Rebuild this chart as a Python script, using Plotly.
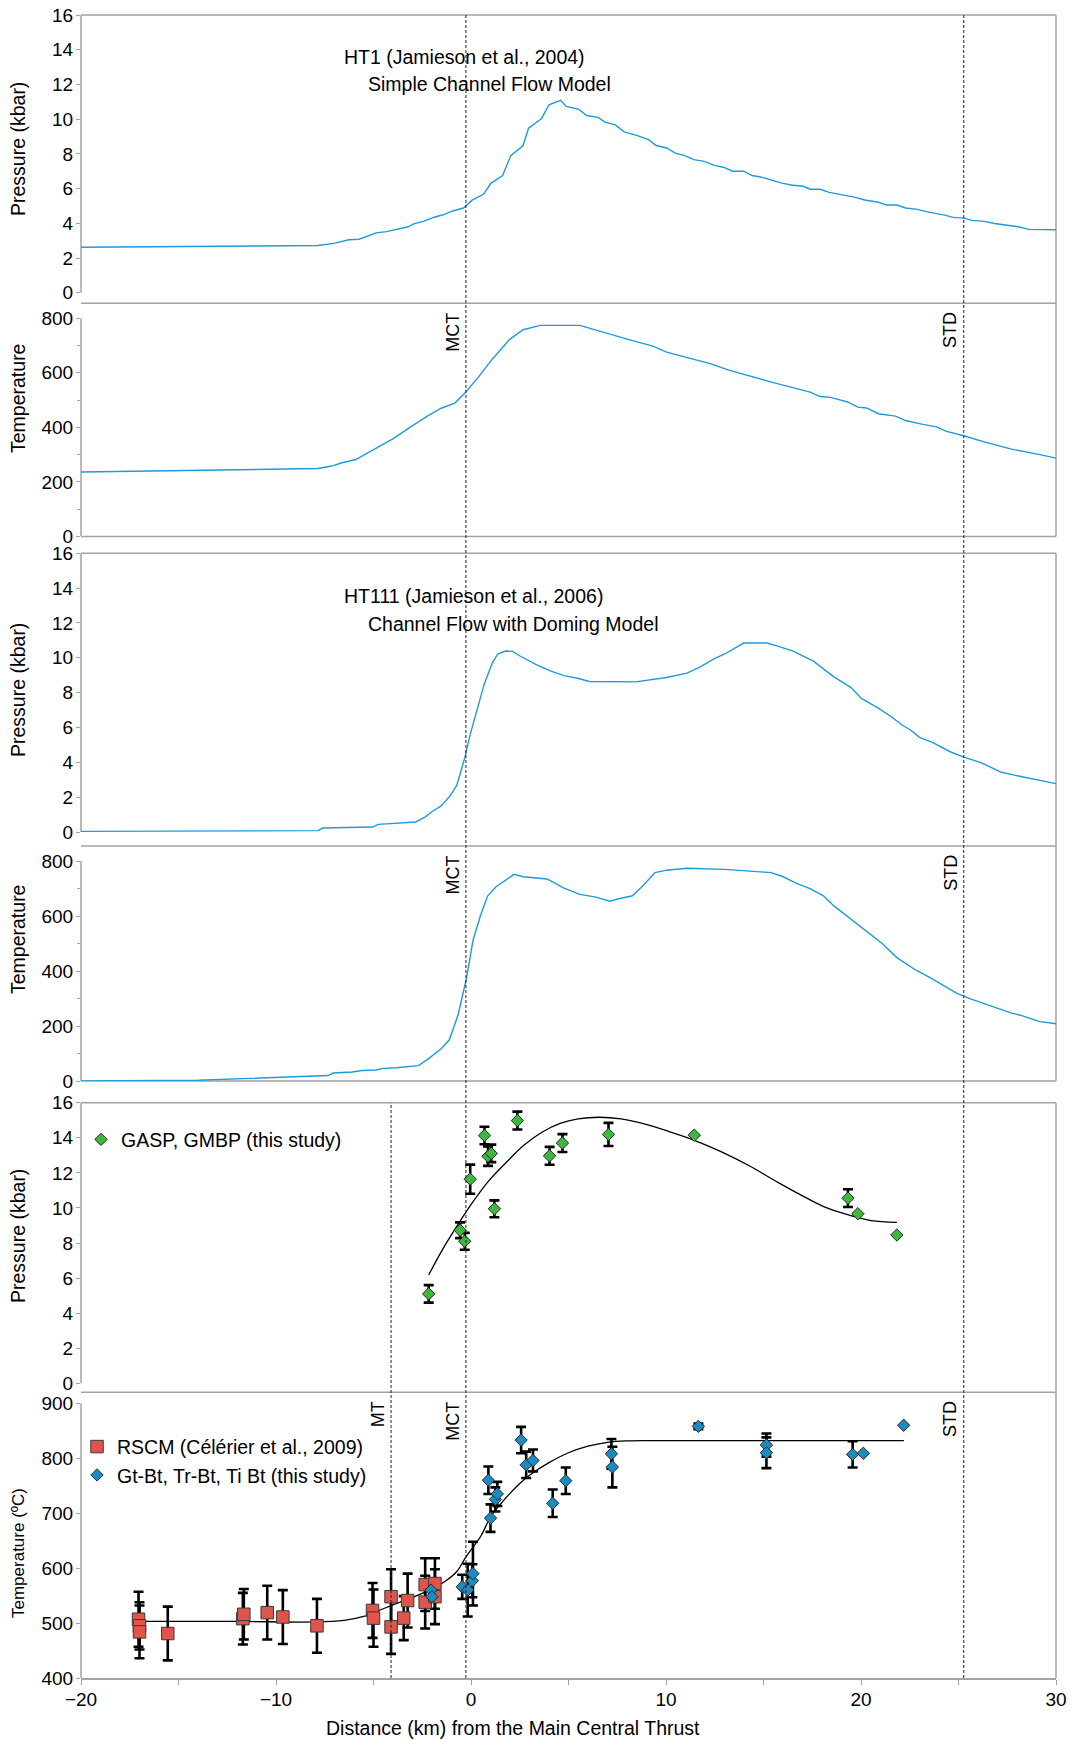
import plotly.graph_objects as go

# ---------------- data ----------------
# HT1 (Jamieson et al., 2004) model
ht1_p_x = [-20, -7.84, -6.97, -6.26, -5.74, -5.21, -4.86, -4.34, -3.81, -3.22, -2.94, -2.41, -1.89, -1.43,
           -0.94, -0.38, 0.04, 0.64, 1.02, 1.62, 2.04, 2.67, 2.95, 3.62, 4.0, 4.6, 4.88, 5.54, 5.93, 6.52,
           6.87, 7.40, 7.86, 8.45, 9.08, 9.50, 10.03, 10.48, 10.97, 11.43, 11.96, 12.48, 12.94, 13.43, 13.99,
           14.41, 14.86, 15.39, 15.99, 16.51, 17.04, 17.39, 17.91, 18.37, 18.96, 19.66, 20.19, 20.89, 21.31,
           21.84, 22.29, 22.89, 23.34, 23.87, 24.29, 24.74, 25.27, 25.69, 26.32, 26.85, 27.44, 28.07, 28.60,
           29.12, 30.0]
ht1_p = [2.62, 2.72, 2.86, 3.05, 3.08, 3.28, 3.45, 3.52, 3.65, 3.80, 3.97, 4.12, 4.35, 4.49,
         4.71, 4.88, 5.32, 5.67, 6.30, 6.75, 7.90, 8.48, 9.48, 10.04, 10.83, 11.08, 10.73, 10.56, 10.21, 10.10,
         9.83, 9.67, 9.27, 9.08, 8.83, 8.48, 8.34, 8.04, 7.90, 7.67, 7.57, 7.34, 7.23, 7.00, 7.00,
         6.75, 6.67, 6.48, 6.30, 6.19, 6.13, 5.96, 5.96, 5.78, 5.67, 5.51, 5.34, 5.21, 5.05,
         5.05, 4.88, 4.80, 4.67, 4.57, 4.47, 4.34, 4.30, 4.17, 4.11, 3.99, 3.90, 3.80, 3.65,
         3.63, 3.63]
ht1_t_x = [-20, -7.84, -7.14, -6.61, -5.91, -5.04, -3.99, -3.11, -2.24, -1.53, -0.83, -0.31, 0.39, 1.09,
           1.97, 2.67, 3.55, 5.58, 6.70, 8.10, 9.33, 10.03, 12.31, 13.18, 15.46, 17.39, 17.91, 18.44, 19.31,
           19.84, 20.29, 20.89, 21.77, 22.29, 23.17, 23.87, 24.39, 25.27, 26.32, 27.72, 29.12, 30.0]
ht1_t = [236, 249, 258, 270, 282, 317, 359, 401, 441, 470, 489, 526, 585, 650,
         722, 758, 774, 774, 750, 722, 698, 676, 633, 611, 565, 529, 513, 510, 493,
         474, 471, 450, 441, 425, 411, 402, 385, 369, 347, 320, 301, 287]

# HT111 (Jamieson et al., 2006) model
ht111_p_x = [-20, -7.84, -7.6, -6.26, -5.04, -4.76, -3.64, -3.29, -2.83, -2.34, -1.99, -1.53, -1.08, -0.73,
             -0.31, -0.03, 0.32, 0.67, 1.09, 1.37, 1.79, 2.14, 2.49, 3.37, 4.07, 4.77, 5.47, 6.07, 8.45, 9.50,
             10.03, 11.08, 11.78, 12.48, 13.01, 13.99, 15.18, 15.81, 16.51, 17.56, 18.61, 19.49, 20.02, 20.89,
             21.59, 22.12, 22.54, 23.00, 23.69, 24.57, 25.27, 26.15, 27.20, 28.07, 28.95, 30.0]
ht111_p = [0.04, 0.08, 0.23, 0.27, 0.29, 0.44, 0.50, 0.56, 0.58, 0.87, 1.18, 1.50, 2.06, 2.68,
           4.30, 5.65, 7.00, 8.46, 9.70, 10.22, 10.39, 10.37, 10.12, 9.60, 9.25, 8.98, 8.83, 8.64, 8.62, 8.77,
           8.87, 9.12, 9.50, 9.95, 10.22, 10.85, 10.85, 10.64, 10.39, 9.81, 8.91, 8.29, 7.67, 7.11,
           6.59, 6.13, 5.86, 5.44, 5.13, 4.61, 4.30, 3.99, 3.43, 3.22, 3.01, 2.78]
ht111_t_x = [-20, -13.97, -7.32, -7.07, -6.09, -5.56, -4.86, -4.51, -3.81, -3.22, -2.69, -2.24, -1.53, -1.11,
             -0.66, -0.24, 0.11, 0.50, 0.85, 1.27, 1.79, 2.21, 2.67, 3.90, 4.77, 5.58, 6.35, 7.12, 7.58, 8.28,
             8.80, 9.43, 10.03, 11.08, 13.01, 14.23, 15.39, 15.99, 16.69, 17.39, 18.09, 18.61, 19.66, 20.29,
             21.07, 21.84, 22.82, 23.52, 24.22, 24.92, 25.62, 26.32, 26.85, 27.72, 28.25, 29.12, 30.0]
ht111_t = [0, 3, 20, 29, 33, 38, 40, 46, 48, 52, 56, 78, 117, 150,
           241, 371, 514, 605, 673, 706, 732, 752, 743, 735, 702, 679, 670, 654, 663, 674,
           709, 758, 767, 774, 770, 764, 758, 744, 719, 700, 673, 637, 579, 544,
           501, 449, 403, 377, 347, 319, 299, 282, 267, 247, 238, 217, 208]

# GASP, GMBP pressures (this study)
gasp_x = [-2.17, -0.56, -0.32, -0.04, 0.69, 0.87, 1.04, 1.20, 2.38, 4.03, 4.69, 7.05, 11.45, 19.33, 19.84, 21.84]
gasp_p = [5.1, 8.73, 8.10, 11.64, 14.13, 12.95, 13.11, 9.95, 14.98, 12.97, 13.70, 14.19, 14.15, 10.56, 9.67, 8.46]
gasp_err = [0.5, 0.45, 0.48, 0.83, 0.5, 0.55, 0.5, 0.48, 0.51, 0.51, 0.51, 0.66, None, 0.51, None, None]

# pressure fit curve
pfit_x = [-2.17, -1.47, -0.74, -0.01, 0.91, 1.83, 2.74, 3.66, 4.57, 5.49, 6.59, 7.69, 8.79, 10.07, 11.36,
          12.82, 14.29, 15.76, 17.22, 18.32, 19.42, 20.52, 21.84]
pfit_p = [6.18, 7.61, 8.93, 10.17, 11.54, 12.62, 13.60, 14.33, 14.82, 15.08, 15.17, 15.08, 14.82, 14.39, 13.90,
          13.21, 12.39, 11.44, 10.56, 9.97, 9.58, 9.28, 9.18]

# RSCM temperatures (Celerier et al., 2009)
rscm_x = [-17.05, -17.0, -17.0, -15.55, -11.7, -11.65, -10.45, -9.65, -7.9, -5.05, -5.0, -4.1, -4.1,
          -3.45, -3.25, -2.35, -1.85, -2.35, -1.85]
rscm_t = [507, 495, 484, 481, 508, 516, 519, 511, 495, 523, 509, 548, 493, 509, 541, 570, 572, 538, 548]
rscm_err = [50, 43, 48, 49, 47, 46, 49, 49, 49, 50, 52, 50, 49, 40, 49, 48, 46, 48, 50]

# Gt-Bt, Tr-Bt, Ti Bt temperatures (this study)
gtbt_x = [-2.05, -2.0, -0.45, -0.17, 0.07, 0.1, 0.89, 1.0, 1.25, 1.35, 2.57, 2.83, 3.18, 4.19, 4.86,
          7.2, 7.25, 11.66, 15.15, 15.15, 19.57, 20.12, 22.19]
gtbt_t = [560, 548, 566, 560, 577, 590, 760, 691, 725, 735, 833, 788, 796, 718, 759,
          808, 784, 858, 824, 810, 807, 809, 860]
gtbt_err = [None, None, 22, 48, 30, 58, 25, 25, 22, 22, 24, 24, 20, 25, 24,
            27, 37, 5, 21, 28, 24, None, None]

# temperature fit curve
tfit_x = [-17, -12, -8, -6.5, -5.5, -4.5, -3.5, -2.5, -1.5, -0.75, -0.25, 0.5, 1.0, 1.5, 2.0, 2.5, 3.0,
          4.0, 5.0, 6.0, 7.0, 8.0, 9.0, 10.0, 15.0, 22.2]
tfit_t = [503, 503, 502, 505, 512, 526, 540, 554, 572, 593, 621, 658, 693, 716, 736, 754, 769,
          792, 810, 822, 829, 831.5, 832, 832, 832, 832]

# structural markers
mct_x = -0.26
std_x = 25.27
mt_x = -4.1

x_ticks = [-20, -10, 0, 10, 20, 30]
x_minor = [-15, -5, 5, 15, 25]
p_ticks = [0, 2, 4, 6, 8, 10, 12, 14, 16]
t_ticks = [0, 200, 400, 600, 800]
t6_ticks = [400, 500, 600, 700, 800, 900]

# ---------------- layout helpers ----------------
W, H = 1072, 1740
PL, PR, PT, PB = 81, 1056, 15, 1678


def py(p):
    return (PB - p) / (PB - PT)


panel_px = [(PT, 303.3), (303.3, 536.4), (553.3, 846), (846, 1081), (1102.7, 1392.3), (1392.3, PB)]
domains = [[max(0, py(b)), min(1, py(t))] for t, b in panel_px]
yranges = [[-0.61, 16], [0, 855], [-0.8, 16], [0, 855], [-0.51, 16], [400, 920]]

FONT = "Liberation Sans, Arial, sans-serif"
GRAY = "#a3a3a3"
BLUE_LINE = "#1f9bd7"

fig = go.Figure()

line_style = dict(color=BLUE_LINE, width=1.4)
fig.add_trace(go.Scatter(x=ht1_p_x, y=ht1_p, mode="lines", line=line_style, xaxis="x", yaxis="y", showlegend=False))
fig.add_trace(go.Scatter(x=ht1_t_x, y=ht1_t, mode="lines", line=line_style, xaxis="x", yaxis="y2", showlegend=False))
fig.add_trace(go.Scatter(x=ht111_p_x, y=ht111_p, mode="lines", line=line_style, xaxis="x", yaxis="y3", showlegend=False))
fig.add_trace(go.Scatter(x=ht111_t_x, y=ht111_t, mode="lines", line=line_style, xaxis="x", yaxis="y4", showlegend=False))

# panel 5: pressure data
fig.add_trace(go.Scatter(x=pfit_x, y=pfit_p, mode="lines", line=dict(color="black", width=1.3, shape="spline"),
                         xaxis="x", yaxis="y5", showlegend=False))
fig.add_trace(go.Scatter(x=gasp_x, y=gasp_p, mode="markers", name="GASP, GMBP (this study)",
                         marker=dict(symbol="diamond", size=9.5, color="#3db83a", line=dict(color="#2a2a2a", width=1)),
                         error_y=dict(type="data", array=gasp_err, color="black", thickness=2.6, width=5),
                         xaxis="x", yaxis="y5", legend="legend"))

# panel 6: temperature data
fig.add_trace(go.Scatter(x=tfit_x, y=tfit_t, mode="lines", line=dict(color="black", width=1.3, shape="spline"),
                         xaxis="x", yaxis="y6", showlegend=False))
fig.add_trace(go.Scatter(x=rscm_x, y=rscm_t, mode="markers", name="RSCM (Célérier et al., 2009)",
                         marker=dict(symbol="square", size=12.5, color="#e0544c", line=dict(color="#3a3a3a", width=1)),
                         error_y=dict(type="data", array=rscm_err, color="black", thickness=2.6, width=5),
                         xaxis="x", yaxis="y6", legend="legend2"))
fig.add_trace(go.Scatter(x=gtbt_x, y=gtbt_t, mode="markers", name="Gt-Bt, Tr-Bt, Ti Bt (this study)",
                         marker=dict(symbol="diamond", size=9.5, color="#1a8bc3", line=dict(color="#2a2a2a", width=1)),
                         error_y=dict(type="data", array=gtbt_err, color="black", thickness=2.6, width=5),
                         xaxis="x", yaxis="y6", legend="legend2"))

tickfont = dict(family=FONT, size=19, color="black")
layout = dict(
    width=W, height=H,
    margin=dict(l=PL, r=W - PR, t=PT, b=H - PB, pad=0, autoexpand=False),
    paper_bgcolor="white", plot_bgcolor="white",
    font=dict(family=FONT, size=19, color="black"),
    xaxis=dict(domain=[0, 1], range=[-20, 30], anchor="y6", tickvals=x_ticks, ticks="outside", ticklen=5,
               tickcolor=GRAY, tickwidth=1.3, showline=True, linecolor=GRAY, linewidth=1.5,
               showgrid=False, zeroline=False, tickfont=tickfont, ticklabelstandoff=-2, automargin=False,
               minor=dict(tickvals=x_minor, ticks="outside", ticklen=5, tickcolor=GRAY, tickwidth=1.3)),
)
tick_sets = [p_ticks, t_ticks, p_ticks, t_ticks, p_ticks, t6_ticks]
for i in range(6):
    key = "yaxis" if i == 0 else f"yaxis{i + 1}"
    ax = dict(domain=domains[i], range=yranges[i], anchor="x", tickvals=tick_sets[i], ticks="outside",
              ticklen=4, tickcolor=GRAY, tickwidth=1.3, showline=False, showgrid=False, zeroline=False,
              tickfont=tickfont, ticklabelstandoff=-1, automargin=False)
    if i in (1, 3):
        ax["minor"] = dict(tickvals=[100, 300, 500, 700], ticks="outside", ticklen=3, tickcolor=GRAY, tickwidth=1.2)
    layout[key] = ax

# legends
layout["legend"] = dict(x=(81 - PL) / (PR - PL), y=py(1139.7), xanchor="left", yanchor="middle",
                        bgcolor="rgba(0,0,0,0)", font=dict(family=FONT, size=19.5), itemwidth=30, borderwidth=0)
layout["legend2"] = dict(x=(77 - PL) / (PR - PL), y=py(1460.9), xanchor="left", yanchor="middle",
                         bgcolor="rgba(0,0,0,0)", font=dict(family=FONT, size=19.5), itemwidth=30,
                         borderwidth=0, tracegroupgap=0)
fig.update_layout(**layout)

# ---------------- frames ----------------
shapes = []
frame = dict(color=GRAY, width=1.5)
for ypx in [PT, 303.3, 536.4, 553.3, 846, 1081, 1102.7, 1392.3]:
    shapes.append(dict(type="line", xref="paper", yref="paper", x0=0, x1=1, y0=py(ypx), y1=py(ypx),
                       line=frame, layer="below"))
for a, b in [(PT, 536.4), (553.3, 1081), (1102.7, PB)]:
    shapes.append(dict(type="line", xref="paper", yref="paper", x0=1, x1=1, y0=py(b), y1=py(a),
                       line=frame, layer="below"))
left_spans = [(0, 16), (0, 800), (0, 16), (0, 800), (0, 16), (400, 900)]
for i, (lo, hi) in enumerate(left_spans):
    yr = "y" if i == 0 else f"y{i + 1}"
    shapes.append(dict(type="line", xref="paper", yref=yr, x0=0, x1=0, y0=lo, y1=hi, line=frame, layer="below"))

dash = dict(color="#222222", width=1, dash="3px,2px")
for xv in [mct_x, std_x]:
    shapes.append(dict(type="line", xref="x", yref="paper", x0=xv, x1=xv, y0=0, y1=1, line=dash))
shapes.append(dict(type="line", xref="x", yref="paper", x0=mt_x, x1=mt_x, y0=0, y1=py(1102.7), line=dash))
fig.update_layout(shapes=shapes)

# ---------------- annotations ----------------
ann = []
txt = dict(family=FONT, size=19.5, color="black")
ann.append(dict(text="HT1 (Jamieson et al., 2004)", x=-6.63, y=13.6, xref="x", yref="y", xanchor="left",
                yanchor="middle", showarrow=False, font=txt))
ann.append(dict(text="Simple Channel Flow Model", x=-5.38, y=12.0, xref="x", yref="y", xanchor="left",
                yanchor="middle", showarrow=False, font=txt))
ann.append(dict(text="HT111 (Jamieson et al., 2006)", x=-6.63, y=13.55, xref="x", yref="y3", xanchor="left",
                yanchor="middle", showarrow=False, font=txt))
ann.append(dict(text="Channel Flow with Doming Model", x=-5.38, y=11.95, xref="x", yref="y3", xanchor="left",
                yanchor="middle", showarrow=False, font=txt))

titles = [("Pressure (kbar)", 149, 19.5), ("Temperature", 399, 19.5), ("Pressure (kbar)", 690, 19.5),
          ("Temperature", 940, 19.5), ("Pressure (kbar)", 1236, 19.5), ("Temperature (ºC)", 1553, 17)]
for t, ypx, fs in titles:
    ann.append(dict(text=t, x=(18 - PL) / (PR - PL), y=py(ypx), xref="paper", yref="paper", xanchor="center",
                    yanchor="middle", textangle=-90, showarrow=False, font=dict(family=FONT, size=fs, color="black")))

ann.append(dict(text="Distance (km) from the Main Central Thrust", x=(513 - PL) / (PR - PL), y=py(1728),
                xref="paper", yref="paper", xanchor="center", yanchor="middle", showarrow=False, font=txt))

lab = dict(family=FONT, size=18, color="black")
for yd in ["y2 domain", "y4 domain", "y6 domain"]:
    for name, xv in [("MCT", mct_x), ("STD", std_x)]:
        ann.append(dict(text=name, x=xv, y=1, xref="x", yref=yd, xanchor="right", yanchor="top", xshift=-1,
                        yshift=-7, textangle=-90, showarrow=False, font=lab))
ann.append(dict(text="MT", x=mt_x, y=1, xref="x", yref="y6 domain", xanchor="right", yanchor="top", xshift=-1,
                yshift=-7, textangle=-90, showarrow=False, font=lab))
fig.update_layout(annotations=ann)

fig.write_html("out.html")
